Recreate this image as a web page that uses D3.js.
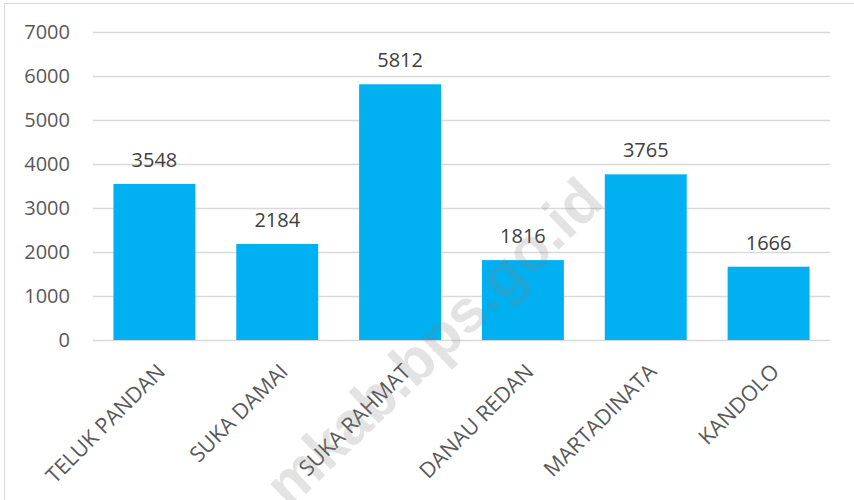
<!DOCTYPE html>
<html>
<head>
<meta charset="utf-8">
<script src="https://cdn.jsdelivr.net/npm/d3@7"></script>
<style>
  html, body { margin: 0; padding: 0; background: #fff; }
  svg { display: block; }
</style>
</head>
<body>
<svg id="chart" width="854" height="500"></svg>
<script>
const categories = ["TELUK PANDAN", "SUKA DAMAI", "SUKA RAHMAT", "DANAU REDAN", "MARTADINATA", "KANDOLO"];
const values = [3548, 2184, 5812, 1816, 3765, 1666];
const yTicks = [0, 1000, 2000, 3000, 4000, 5000, 6000, 7000];
const watermarkText = "mkab.bps.go.id";

const svg = d3.select("#chart");
const W = 854, H = 500;
const font = "'Open Sans', 'DejaVu Sans', sans-serif";

svg.append("rect").attr("x", 0).attr("y", 0).attr("width", W).attr("height", H).attr("fill", "#fff");
svg.append("rect").attr("x", 4.5).attr("y", 3.5).attr("width", W).attr("height", H)
  .attr("fill", "none").attr("stroke", "#d9d9d9").attr("stroke-width", 1);

const x = d3.scaleBand().domain(categories).range([93, 830]).paddingInner(0.333).paddingOuter(0.1665);
const y = d3.scaleLinear().domain([0, 7000]).range([340, 32]);

// gridlines
const yAxis = d3.axisLeft(y).tickValues(yTicks).tickSize(-(830 - 93)).tickPadding(23).tickFormat(d3.format("d"));
const gy = svg.append("g").attr("transform", "translate(93,0)").call(yAxis);
gy.select(".domain").remove();
gy.selectAll(".tick line").attr("stroke", "#d9d9d9").attr("stroke-width", 1.5);
gy.selectAll(".tick text").attr("fill", "#595959").attr("font-family", font).attr("font-size", 20);

// bars
svg.append("g").selectAll("rect").data(values).join("rect")
  .attr("x", (d, i) => x(categories[i]))
  .attr("y", d => y(d))
  .attr("width", x.bandwidth())
  .attr("height", d => y(0) - y(d))
  .attr("fill", "#00B0F0");

// data labels
svg.append("g").selectAll("text").data(values).join("text")
  .attr("x", (d, i) => x(categories[i]) + x.bandwidth() / 2)
  .attr("y", d => y(d) - 17)
  .attr("text-anchor", "middle")
  .attr("fill", "#404040")
  .attr("font-family", font).attr("font-size", 20)
  .text(d => d);

// category labels
svg.append("g").selectAll("text").data(categories).join("text")
  .attr("transform", d => `translate(${x(d) + x.bandwidth() / 2 + 12},373) rotate(-45)`)
  .attr("text-anchor", "end")
  .attr("fill", "#595959")
  .attr("font-family", font).attr("font-size", 21.5)
  .text(d => d);

// watermark
svg.append("text")
  .attr("transform", "translate(606,204) rotate(-44)")
  .attr("text-anchor", "end")
  .attr("font-family", "'Liberation Sans', Arial, sans-serif")
  .attr("font-weight", "bold")
  .attr("font-size", 60)
  .attr("fill", "#7f7f7f")
  .attr("fill-opacity", 0.22)
  .text(watermarkText);
</script>
</body>
</html>
